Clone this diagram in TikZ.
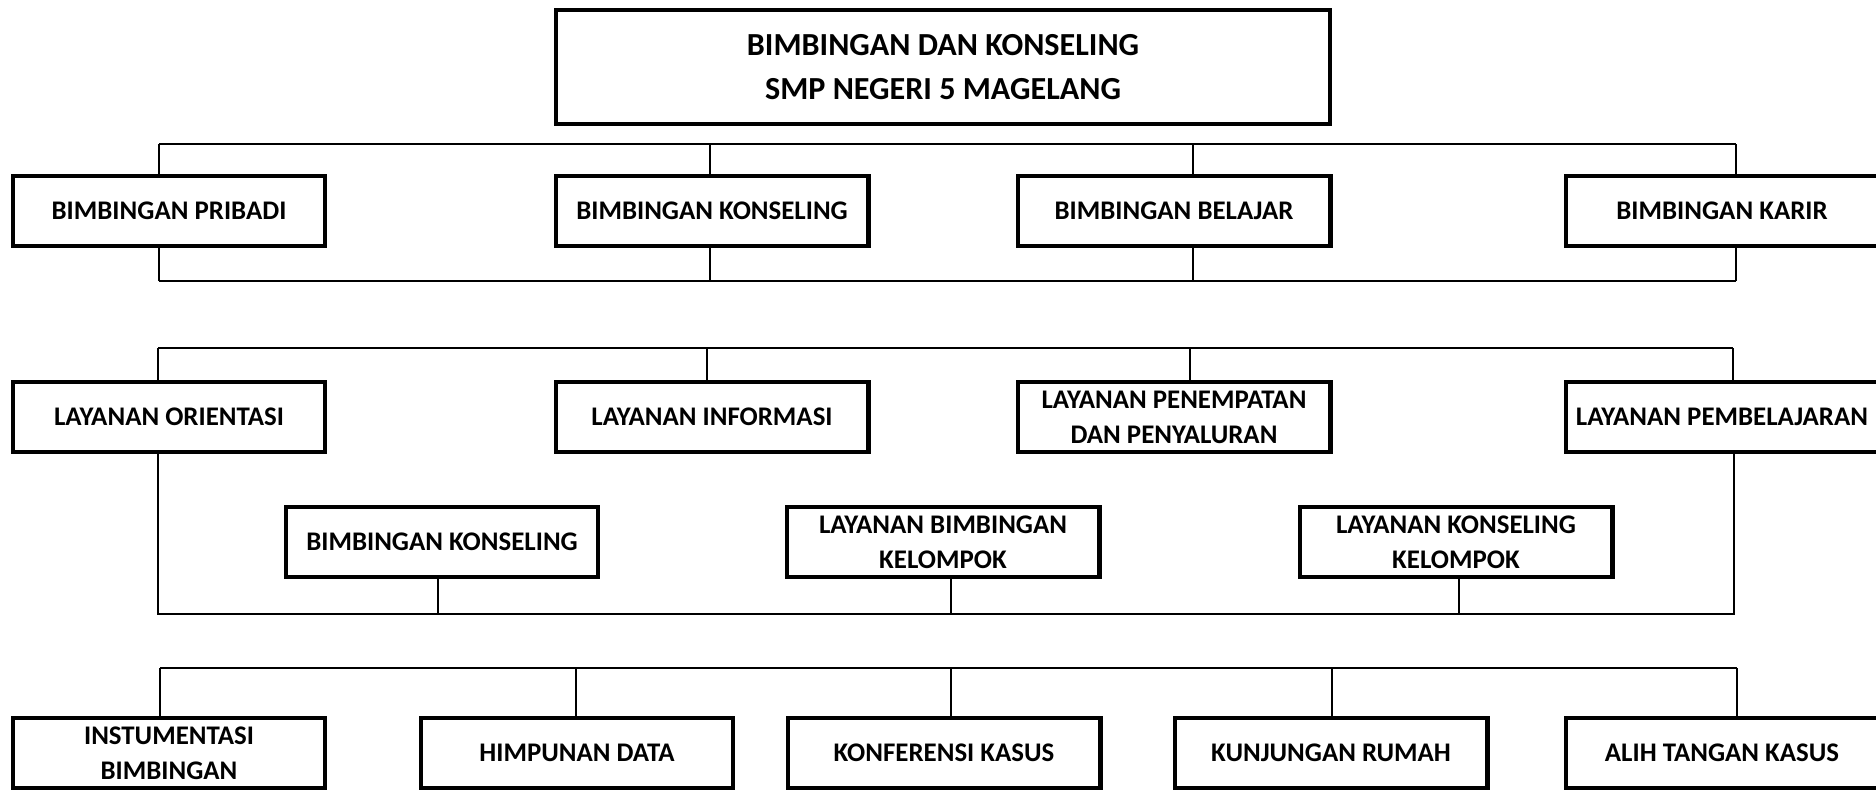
\documentclass[tikz,border=0pt]{standalone}
\usepackage{fontspec}
\setmainfont{Carlito}
\tikzset{
block/.style = {draw, line width=2.3pt, rectangle, minimum width=6.26cm, minimum height=1.41cm, align=center, inner sep=2pt, font=\bfseries\fontsize{15.3}{20}\selectfont},
link/.style  = {draw, line width=0.7pt},}

\begin{document}
\begin{tikzpicture}[x=0.02cm, y=-0.02cm]
    \useasboundingbox (0,0) rectangle (1876,789);
    \clip (0,0) rectangle (1876,789);
    % judul
    \node[block, minimum width=15.49cm, minimum height=2.29cm, font=\bfseries\fontsize{18.3}{25.5}\selectfont] (judul) at (943,67) {BIMBINGAN DAN KONSELING\\SMP NEGERI 5 MAGELANG};
    % bidang bimbingan
    \node[block] (pribadi) at (169,211) {BIMBINGAN PRIBADI};
    \node[block] (konseling) at (712,211) {BIMBINGAN KONSELING};
    \node[block] (belajar) at (1174,211) {BIMBINGAN BELAJAR};
    \node[block] (karir) at (1722,211) {BIMBINGAN KARIR};
    % layanan
    \node[block] (orientasi) at (169,417) {LAYANAN ORIENTASI};
    \node[block] (informasi) at (712,417) {LAYANAN INFORMASI};
    \node[block] (penempatan) at (1174,417) {LAYANAN PENEMPATAN\\DAN PENYALURAN};
    \node[block] (pembelajaran) at (1722,417) {LAYANAN PEMBELAJARAN};
    \node[block] (bkonseling) at (442,542) {BIMBINGAN KONSELING};
    \node[block] (bkelompok) at (943,542) {LAYANAN BIMBINGAN\\KELOMPOK};
    \node[block] (kkelompok) at (1456,542) {LAYANAN KONSELING\\KELOMPOK};
    % kegiatan pendukung
    \node[block] (instrumen) at (169,753) {INSTUMENTASI\\BIMBINGAN};
    \node[block] (himpunan) at (577,753) {HIMPUNAN DATA};
    \node[block] (konferensi) at (944,753) {KONFERENSI KASUS};
    \node[block] (kunjungan) at (1331,753) {KUNJUNGAN RUMAH};
    \node[block] (alih) at (1722,753) {ALIH TANGAN KASUS};

    % garis atas bidang
    \coordinate (a1) at (159,144); \coordinate (a2) at (710,144);
    \coordinate (a3) at (1193,144); \coordinate (a4) at (1736,144);
    \draw[link] (a1) -- (a4);
    \draw[link] (a1) -- (a1 |- pribadi.north);
    \draw[link] (a2) -- (a2 |- konseling.north);
    \draw[link] (a3) -- (a3 |- belajar.north);
    \draw[link] (a4) -- (a4 |- karir.north);
    % garis bawah bidang
    \coordinate (b1) at (159,281); \coordinate (b2) at (710,281);
    \coordinate (b3) at (1193,281); \coordinate (b4) at (1736,281);
    \draw[link] (b1) -- (b4);
    \draw[link] (b1) -- (b1 |- pribadi.south);
    \draw[link] (b2) -- (b2 |- konseling.south);
    \draw[link] (b3) -- (b3 |- belajar.south);
    \draw[link] (b4) -- (b4 |- karir.south);
    % garis atas layanan
    \coordinate (c1) at (158,348); \coordinate (c2) at (707,348);
    \coordinate (c3) at (1190,348); \coordinate (c4) at (1733,348);
    \draw[link] (c1) -- (c4);
    \draw[link] (c1) -- (c1 |- orientasi.north);
    \draw[link] (c2) -- (c2 |- informasi.north);
    \draw[link] (c3) -- (c3 |- penempatan.north);
    \draw[link] (c4) -- (c4 |- pembelajaran.north);
    % garis bawah layanan
    \coordinate (d1) at (158,614); \coordinate (d2) at (438,614);
    \coordinate (d3) at (951,614); \coordinate (d4) at (1459,614);
    \coordinate (d5) at (1734,614);
    \draw[link] (d1 |- orientasi.south) -- (d1) -- (d5) -- (d5 |- pembelajaran.south);
    \draw[link] (d2) -- (d2 |- bkonseling.south);
    \draw[link] (d3) -- (d3 |- bkelompok.south);
    \draw[link] (d4) -- (d4 |- kkelompok.south);
    % garis kegiatan pendukung
    \coordinate (e1) at (160,668); \coordinate (e2) at (576,668);
    \coordinate (e3) at (951,668); \coordinate (e4) at (1332,668);
    \coordinate (e5) at (1737,668);
    \draw[link] (e1) -- (e5);
    \draw[link] (e1) -- (e1 |- instrumen.north);
    \draw[link] (e2) -- (e2 |- himpunan.north);
    \draw[link] (e3) -- (e3 |- konferensi.north);
    \draw[link] (e4) -- (e4 |- kunjungan.north);
    \draw[link] (e5) -- (e5 |- alih.north);
\end{tikzpicture}
\end{document}
